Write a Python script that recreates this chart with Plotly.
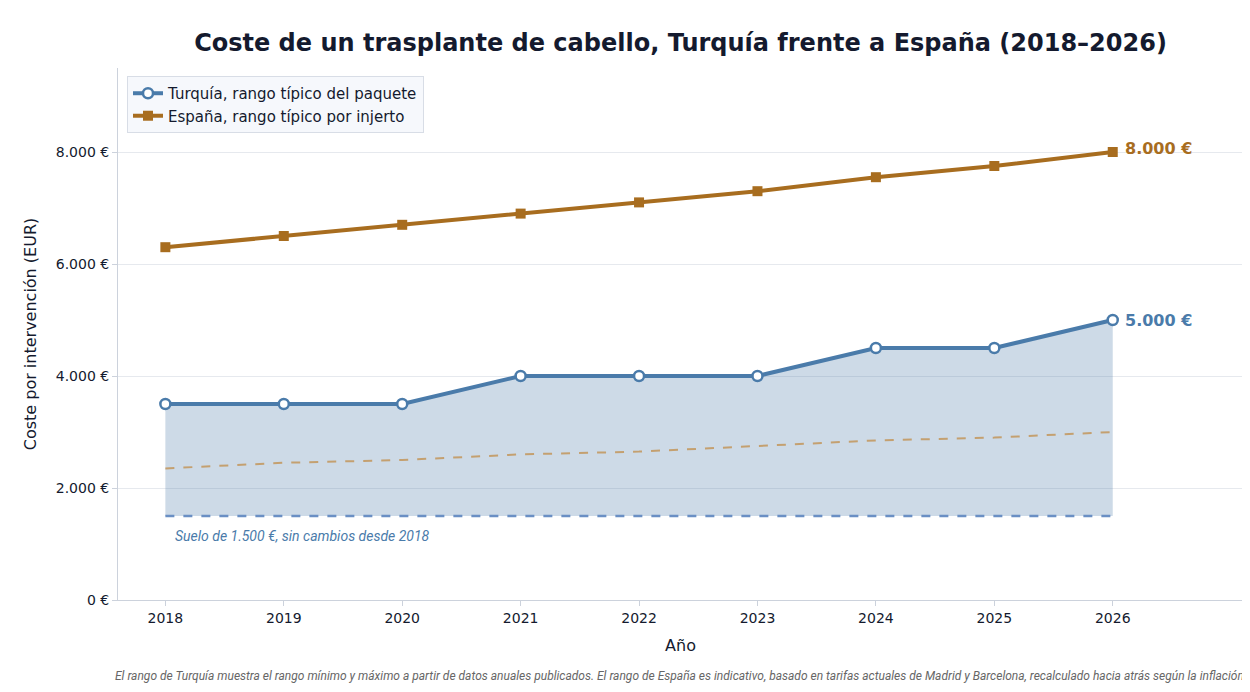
import plotly.graph_objects as go

years = [2018, 2019, 2020, 2021, 2022, 2023, 2024, 2025, 2026]
turkey_max = [3500, 3500, 3500, 4000, 4000, 4000, 4500, 4500, 5000]
turkey_min = [1500, 1500, 1500, 1500, 1500, 1500, 1500, 1500, 1500]
spain_max = [6300, 6500, 6700, 6900, 7100, 7300, 7550, 7750, 8000]
spain_min = [2350, 2450, 2500, 2600, 2650, 2750, 2850, 2900, 3000]

blue = "#4a7baa"
brown = "#a86d1f"

fig = go.Figure()
# shaded Turkey range (no legend entry)
fig.add_trace(go.Scatter(x=years, y=turkey_min, mode="lines", showlegend=False,
                         line=dict(color="#6a8fc4", width=2.5, dash="dash"), hoverinfo="skip"))
fig.add_trace(go.Scatter(x=years, y=turkey_max, mode="lines", fill="tonexty", showlegend=False,
                         fillcolor="rgba(74,123,170,0.28)", line=dict(width=0), hoverinfo="skip"))
fig.add_trace(go.Scatter(x=years, y=spain_min, mode="lines", showlegend=False,
                         line=dict(color="#c4a070", width=2, dash="dash"), hoverinfo="skip"))
fig.add_trace(go.Scatter(x=years, y=turkey_max, mode="lines+markers",
                         name="Turquía, rango típico del paquete", legendrank=1,
                         line=dict(color=blue, width=4),
                         marker=dict(symbol="circle", size=10, color="white",
                                     line=dict(color=blue, width=2.5))))
fig.add_trace(go.Scatter(x=years, y=spain_max, mode="lines+markers",
                         name="España, rango típico por injerto", legendrank=2,
                         line=dict(color=brown, width=4),
                         marker=dict(symbol="square", size=10, color=brown)))

fig.add_annotation(x=years[-1], y=spain_max[-1], text="<b>8.000 €</b>", xanchor="left", yanchor="bottom",
                   xshift=10, yshift=-8, showarrow=False, font=dict(color=brown, size=16))
fig.add_annotation(x=years[-1], y=turkey_max[-1], text="<b>5.000 €</b>", xanchor="left",
                   xshift=10, showarrow=False, font=dict(color=blue, size=16))
fig.add_annotation(x=years[0], y=turkey_min[0], text="<i>Suelo de 1.500 €, sin cambios desde 2018</i>",
                   xanchor="left", yanchor="top", xshift=8, yshift=-10, showarrow=False,
                   font=dict(color=blue, size=14, family="Roboto"))
fig.add_annotation(x=0.5, y=-0.16, xref="paper", yref="paper", showarrow=False,
                   text="<i>El rango de Turquía muestra el rango mínimo y máximo a partir de datos anuales publicados. "
                        "El rango de España es indicativo, basado en tarifas actuales de Madrid y Barcelona, "
                        "recalculado hacia atrás según la inflación.</i>",
                   font=dict(color="#666666", size=12, family="Roboto"))

fig.update_layout(
    width=1250, height=692,
    title=dict(text="<b>Coste de un trasplante de cabello, Turquía frente a España (2018–2026)</b>",
               x=0.538, xanchor="center", y=0.962, font=dict(size=24, color="#141a2e")),
    font=dict(family="DejaVu Sans", color="#141a2e", size=14),
    paper_bgcolor="white", plot_bgcolor="white",
    margin=dict(l=110, r=15, t=60, b=100),
    legend=dict(x=0.008, y=0.985, bgcolor="rgba(245,248,252,0.95)", bordercolor="#d8dde6",
                borderwidth=1, font=dict(size=15), traceorder="normal"),
    xaxis=dict(title=dict(text="Año", font=dict(size=16)), range=[2017.6, 2027.1], tickvals=years,
               showgrid=False, showline=True, linecolor="#ccd2dc", ticks="outside",
               tickcolor="#ccd2dc"),
    yaxis=dict(title=dict(text="Coste por intervención (EUR)", font=dict(size=16)),
               range=[0, 9500], tickvals=[0, 2000, 4000, 6000, 8000],
               ticktext=["0 €", "2.000 €", "4.000 €", "6.000 €", "8.000 €"],
               gridcolor="#e6e9ee", showline=True, linecolor="#ccd2dc", zeroline=False,
               ticks="outside", tickcolor="#ccd2dc"),
)

fig.write_html("out.html")
